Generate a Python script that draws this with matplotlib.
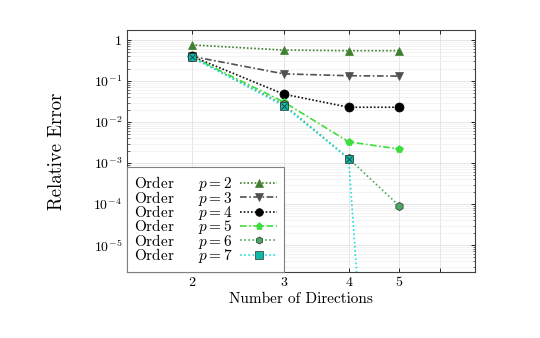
import numpy as np
import matplotlib
matplotlib.use('Agg')
import matplotlib.pyplot as plt
from matplotlib.ticker import LogLocator, NullFormatter

plt.rcParams['font.family'] = 'serif'
plt.rcParams['font.serif'] = ['cmr10']
plt.rcParams['mathtext.fontset'] = 'cm'
plt.rcParams['axes.formatter.use_mathtext'] = True

# number of directions
directions = [2, 3, 4, 5]

# relative error per order p
err_p2 = [0.76, 0.57, 0.55, 0.55]
err_p3 = [0.40, 0.15, 0.135, 0.132]
err_p4 = [0.40, 0.048, 0.023, 0.023]
err_p5 = [0.39, 0.031, 0.0033, 0.0022]
err_p6 = [0.38, 0.027, 0.0013, 9.1e-5]
err_p7 = [0.38, 0.025, 0.00127, 4e-21]

series = [
    (2, err_p2, '#3f7f2f', '^', (0, (1, 1.2)), '#3f7f2f'),
    (3, err_p3, '#505050', 'v', (0, (4, 1.5, 1, 1.5)), '#505050'),
    (4, err_p4, '#101010', 'o', (0, (1, 1.2)), '#000000'),
    (5, err_p5, '#3ddd3d', 'p', (0, (4, 1.5, 1, 1.5)), '#3ddd3d'),
    (6, err_p6, '#4aa860', 'h', (0, (1, 1.5)), '#4aa860'),
    (7, err_p7, '#20dddd', 's', (0, (1, 1.5)), '#10b8a8'),
]

fig = plt.figure(figsize=(5.4, 3.38), dpi=100)
ax = fig.add_axes([0.235, 0.195, 0.645, 0.716])

for p, vals, col, mk, ls, fc in series:
    ax.plot(directions, vals, color=col, linestyle=ls, linewidth=1.2,
            marker=mk, markersize=6 if mk != 'o' else 6.5,
            markerfacecolor=fc, markeredgecolor='#303030' if p in (6, 7) else fc,
            markeredgewidth=0.5, label=f'Order     $p = {p}$')
    if p == 7:
        ax.plot(directions, vals, linestyle='none', marker='x', markersize=4,
                color='#104040', markeredgewidth=0.6)

ax.set_xscale('log')
ax.set_yscale('log')
ax.set_xlim(1.5, 7)
ax.set_ylim(2.2e-6, 1.75)
ax.set_xticks([2, 3, 4, 5, 6])
ax.set_xticklabels(['2', '3', '4', '5', ''])
ax.xaxis.set_minor_formatter(NullFormatter())
ax.xaxis.set_minor_locator(plt.NullLocator())
ax.set_yticks([1, 1e-1, 1e-2, 1e-3, 1e-4, 1e-5])
ax.set_yticklabels(['$1$', '$10^{-1}$', '$10^{-2}$', '$10^{-3}$', '$10^{-4}$', '$10^{-5}$'])
ax.yaxis.set_minor_locator(LogLocator(base=10, subs=np.arange(2, 10), numticks=20))
ax.yaxis.set_minor_formatter(NullFormatter())

ax.grid(True, which='major', color='#e0e0e0', linewidth=0.6)
ax.grid(True, which='minor', axis='y', color='#eeeeee', linewidth=0.5)
ax.set_axisbelow(True)
ax.tick_params(which='both', direction='in', top=True, right=True, labelsize=10)
ax.tick_params(which='major', length=3, width=0.6)
ax.tick_params(which='minor', length=1.8, width=0.4)
for s in ax.spines.values():
    s.set_color('#404040')
    s.set_linewidth(0.8)

ax.set_xlabel('Number of Directions', fontsize=11, labelpad=2)
ax.set_ylabel('Relative Error', fontsize=13.5, labelpad=20)

leg = ax.legend(loc='lower left', fontsize=11, handlelength=2.4, handletextpad=0.5,
                borderaxespad=0.0, labelspacing=-0.3, fancybox=False,
                edgecolor='#808080', framealpha=1, borderpad=0.45, markerfirst=False,
                markerscale=0.85)
leg.get_frame().set_linewidth(0.8)

fig.savefig('out.png', dpi=100)
